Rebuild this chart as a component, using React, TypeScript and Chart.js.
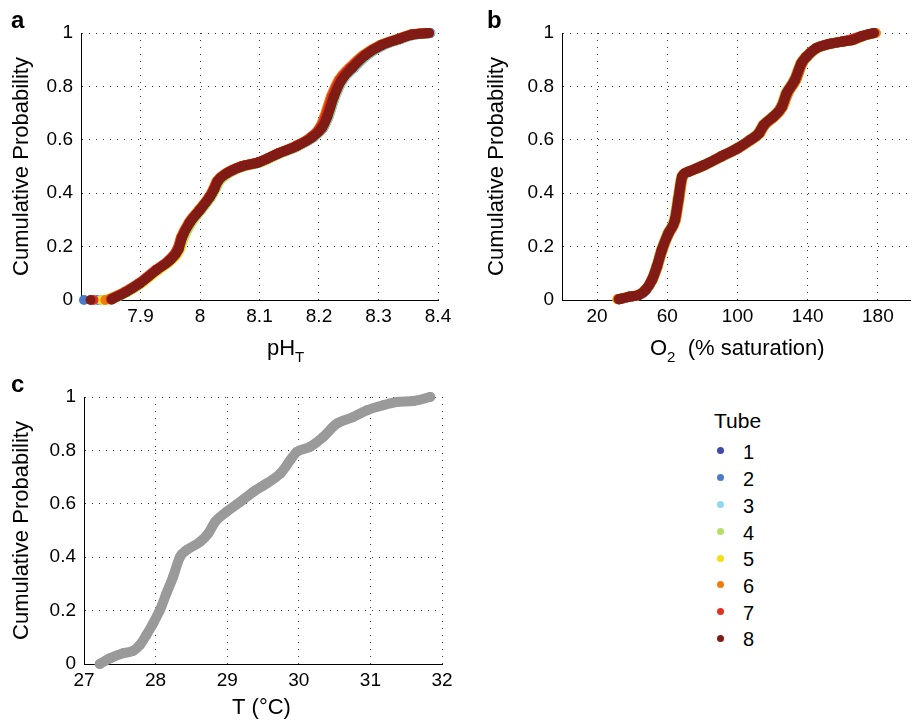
import React, { useEffect, useRef } from "react";
import { Chart, registerables } from "chart.js";

Chart.register(...registerables);

const FONT = "'Liberation Sans', Arial, Helvetica, sans-serif";

// ---------- shared ----------
const tubeNames = ["1", "2", "3", "4", "5", "6", "7", "8"];
const tubeColors = ["#3f4aa6", "#4b7bc8", "#90d9ea", "#b3e066", "#f4df14", "#ef7d0c", "#e1311f", "#801b15"];
const probTicks = [0, 0.2, 0.4, 0.6, 0.8, 1];

// ---------- panel a : pH_T ----------
const phTicks = [7.9, 8, 8.1, 8.2, 8.3, 8.4];
const phProb = [0.003, 0.03, 0.062, 0.112, 0.15, 0.19, 0.235, 0.29, 0.337, 0.387, 0.415, 0.445, 0.474, 0.5, 0.515, 0.549, 0.577, 0.61, 0.645, 0.687, 0.761, 0.824, 0.87, 0.917, 0.955, 0.977, 0.994, 1.0];
const phFirst = [7.829, 7.805, 7.832, 7.838, 7.836, 7.841, 7.821, 7.816];
const phTube1 = [7.852, 7.877, 7.9, 7.928, 7.951, 7.965, 7.971, 7.984, 8.001, 8.018, 8.025, 8.031, 8.046, 8.071, 8.099, 8.133, 8.164, 8.19, 8.206, 8.215, 8.226, 8.239, 8.257, 8.279, 8.307, 8.335, 8.358, 8.386];
const phTube2 = [7.851, 7.876, 7.899, 7.927, 7.95, 7.963, 7.969, 7.983, 8.001, 8.018, 8.025, 8.032, 8.047, 8.072, 8.1, 8.134, 8.165, 8.191, 8.207, 8.216, 8.227, 8.24, 8.259, 8.281, 8.309, 8.337, 8.36, 8.387];
const phTube3 = [7.853, 7.877, 7.9, 7.928, 7.951, 7.965, 7.972, 7.985, 8.001, 8.018, 8.025, 8.032, 8.047, 8.072, 8.1, 8.134, 8.165, 8.191, 8.206, 8.216, 8.227, 8.24, 8.258, 8.28, 8.308, 8.336, 8.359, 8.386];
const phTube4 = [7.853, 7.878, 7.901, 7.929, 7.952, 7.966, 7.973, 7.986, 8.002, 8.019, 8.026, 8.033, 8.048, 8.073, 8.101, 8.134, 8.165, 8.19, 8.206, 8.215, 8.226, 8.239, 8.257, 8.279, 8.307, 8.335, 8.358, 8.384];
const phTube5 = [7.846, 7.876, 7.901, 7.93, 7.952, 7.966, 7.971, 7.982, 7.998, 8.016, 8.023, 8.029, 8.044, 8.069, 8.098, 8.132, 8.162, 8.187, 8.202, 8.21, 8.221, 8.234, 8.252, 8.275, 8.304, 8.333, 8.356, 8.382];
const phTube6 = [7.848, 7.873, 7.897, 7.926, 7.949, 7.962, 7.968, 7.981, 7.998, 8.015, 8.022, 8.028, 8.043, 8.068, 8.097, 8.131, 8.161, 8.186, 8.201, 8.209, 8.22, 8.233, 8.251, 8.274, 8.303, 8.331, 8.354, 8.38];
const phTube7 = [7.85, 7.874, 7.897, 7.925, 7.948, 7.962, 7.969, 7.982, 7.999, 8.016, 8.023, 8.029, 8.044, 8.069, 8.097, 8.131, 8.161, 8.187, 8.202, 8.211, 8.222, 8.235, 8.253, 8.276, 8.304, 8.332, 8.355, 8.378];
const phTube8 = [7.852, 7.876, 7.899, 7.927, 7.95, 7.964, 7.97, 7.983, 8.0, 8.017, 8.024, 8.03, 8.045, 8.07, 8.098, 8.132, 8.163, 8.189, 8.205, 8.214, 8.225, 8.238, 8.256, 8.278, 8.306, 8.334, 8.357, 8.385];

// ---------- panel b : O2 (% saturation) ----------
const o2Ticks = [20, 60, 100, 140, 180];
const o2Prob = [0.003, 0.012, 0.019, 0.037, 0.075, 0.125, 0.187, 0.25, 0.3, 0.375, 0.462, 0.48, 0.506, 0.537, 0.568, 0.6, 0.624, 0.655, 0.687, 0.724, 0.774, 0.824, 0.887, 0.911, 0.943, 0.959, 0.968, 0.974, 0.989, 1.0];
const o2Tube1 = [32.8, 38.4, 44.0, 47.8, 51.4, 54.2, 56.9, 60.7, 64.4, 66.3, 68.6, 72.0, 81.4, 90.8, 100.3, 107.7, 112.4, 115.2, 120.8, 125.5, 128.3, 132.9, 136.7, 139.5, 145.1, 152.6, 160.2, 165.7, 171.3, 177.8];
const o2Tube2 = [32.9, 38.5, 44.1, 47.9, 51.5, 54.2, 56.8, 60.6, 64.3, 66.2, 68.6, 72.1, 81.6, 91.1, 100.6, 108.1, 112.7, 115.5, 121.0, 125.6, 128.3, 133.0, 136.8, 139.6, 145.3, 152.8, 160.3, 165.8, 171.4, 177.9];
const o2Tube3 = [32.7, 38.3, 43.9, 47.7, 51.2, 54.0, 56.7, 60.5, 64.2, 66.1, 68.4, 71.8, 81.2, 90.6, 100.2, 107.6, 112.3, 115.1, 120.7, 125.4, 128.2, 132.9, 136.6, 139.4, 145.0, 152.5, 160.1, 165.7, 171.3, 177.8];
const o2Tube4 = [32.8, 38.4, 44.0, 47.5, 50.9, 53.6, 56.3, 60.0, 63.7, 65.7, 67.9, 71.3, 80.8, 90.0, 99.4, 106.8, 111.4, 114.2, 119.8, 124.5, 127.3, 132.0, 135.8, 138.6, 144.3, 151.8, 159.5, 165.0, 170.8, 177.4];
const o2Tube5 = [31.6, 37.6, 43.4, 47.4, 51.4, 54.4, 57.2, 61.0, 64.7, 66.6, 68.8, 72.2, 81.6, 91.0, 100.3, 107.8, 112.6, 115.4, 121.0, 125.7, 128.6, 133.2, 136.9, 139.6, 145.2, 152.7, 160.3, 165.9, 171.5, 178.2];
const o2Tube6 = [31.8, 37.8, 43.6, 47.6, 51.6, 54.5, 57.3, 61.1, 64.9, 66.8, 69.0, 72.4, 81.8, 91.1, 100.4, 108.0, 112.8, 115.6, 121.3, 126.0, 128.9, 133.5, 137.1, 139.8, 145.4, 152.9, 160.5, 166.1, 171.8, 178.8];
const o2Tube7 = [32.4, 38.0, 43.5, 47.3, 51.0, 53.9, 56.7, 60.5, 64.2, 66.1, 68.3, 71.7, 81.0, 90.3, 99.7, 107.2, 111.9, 114.7, 120.3, 125.0, 127.8, 132.5, 136.2, 139.0, 144.6, 152.0, 159.6, 163.5, 171.0, 177.5];
const o2Tube8 = [32.6, 38.2, 43.8, 47.6, 51.3, 54.1, 56.9, 60.7, 64.4, 66.3, 68.5, 71.9, 81.3, 90.6, 100.0, 107.5, 112.2, 115.0, 120.6, 125.3, 128.1, 132.8, 136.5, 139.3, 144.9, 152.4, 160.0, 165.6, 171.2, 177.7];

// ---------- panel c : temperature ----------
const tempTicks = [27, 28, 29, 30, 31, 32];
const tempValues = [27.22, 27.36, 27.545, 27.685, 27.78, 27.87, 27.965, 28.06, 28.15, 28.245, 28.34, 28.43, 28.62, 28.735, 28.83, 28.99, 29.18, 29.365, 29.55, 29.74, 29.88, 29.97, 30.155, 30.34, 30.53, 30.76, 30.95, 31.18, 31.37, 31.6, 31.835];
const tempProb = [0.0, 0.021, 0.04, 0.049, 0.071, 0.108, 0.152, 0.202, 0.264, 0.327, 0.401, 0.426, 0.457, 0.489, 0.532, 0.57, 0.607, 0.645, 0.676, 0.713, 0.763, 0.794, 0.813, 0.85, 0.9, 0.925, 0.95, 0.969, 0.981, 0.985, 1.0];
const tempColor = "#9a9a9a";

const phTubes = [phTube1, phTube2, phTube3, phTube4, phTube5, phTube6, phTube7, phTube8];
const o2Tubes = [o2Tube1, o2Tube2, o2Tube3, o2Tube4, o2Tube5, o2Tube6, o2Tube7, o2Tube8];

function curve(xs: number[], ps: number[], first?: number) {
  const pts: any[] = [];
  if (first !== undefined) {
    pts.push({ x: first, y: 0 });
    pts.push({ x: first, y: null });
  }
  xs.forEach((x, i) => pts.push({ x, y: ps[i] }));
  return pts;
}

function seriesStyle(color: string, order: number) {
  return {
    type: "line",
    borderColor: color,
    backgroundColor: color,
    pointBackgroundColor: color,
    pointBorderWidth: 0,
    pointRadius: 5,
    pointHoverRadius: 5,
    borderWidth: 10,
    borderCapStyle: "round",
    borderJoinStyle: "round",
    cubicInterpolationMode: "monotone",
    spanGaps: false,
    clip: false,
    order,
  };
}

type Part = { text: string; size: number; dy?: number };
type Spec = {
  left: number; top: number; width: number; height: number;
  area: { left: number; top: number; right: number; bottom: number };
  xMin: number; xMax: number; xTicks: number[];
  datasets: any[];
  letter: string; letterX: number; letterY: number;
  xTitle: Part[]; xTitleX: number; xTitleY: number;
  yTitlePad: number;
};

function buildConfig(s: Spec): any {
  const textPlugin = {
    id: "panelText",
    afterDraw(chart: any) {
      const ctx = chart.ctx;
      ctx.save();
      ctx.fillStyle = "#000";
      ctx.textAlign = "left";
      ctx.textBaseline = "alphabetic";
      ctx.font = `bold 24px ${FONT}`;
      ctx.fillText(s.letter, s.letterX, s.letterY);
      let x = s.xTitleX;
      for (const p of s.xTitle) {
        ctx.font = `${p.size}px ${FONT}`;
        ctx.fillText(p.text, x, s.xTitleY + (p.dy || 0));
        x += ctx.measureText(p.text).width;
      }
      ctx.restore();
    },
  };
  const gridCommon = { color: "#3a3a3a", lineWidth: 1, drawTicks: false };
  const borderCommon = { display: true, color: "#000", width: 1, dash: [1, 6] };
  return {
    type: "line",
    data: { datasets: s.datasets },
    plugins: [textPlugin],
    options: {
      responsive: false,
      maintainAspectRatio: false,
      animation: false,
      events: [],
      layout: { padding: { left: 0, top: s.area.top, right: s.width - s.area.right, bottom: 0 } },
      plugins: { legend: { display: false }, tooltip: { enabled: false } },
      scales: {
        x: {
          type: "linear",
          min: s.xMin,
          max: s.xMax,
          afterBuildTicks: (sc: any) => { sc.ticks = s.xTicks.map((v) => ({ value: v })); },
          afterFit: (sc: any) => { sc.height = s.height - s.area.bottom; },
          ticks: { color: "#000", font: { family: FONT, size: 19 }, padding: 5, maxRotation: 0, callback: (v: any) => String(v) },
          grid: gridCommon,
          border: borderCommon,
        },
        y: {
          type: "linear",
          min: 0,
          max: 1,
          afterBuildTicks: (sc: any) => { sc.ticks = probTicks.map((v) => ({ value: v })); },
          afterFit: (sc: any) => { sc.width = s.area.left; },
          ticks: { color: "#000", font: { family: FONT, size: 19 }, padding: 8, callback: (v: any) => String(v) },
          grid: gridCommon,
          border: borderCommon,
          title: { display: true, text: "Cumulative Probability", color: "#000", font: { family: FONT, size: 22 }, padding: { top: s.yTitlePad, bottom: 0 } },
        },
      },
    },
  };
}

const specA: Spec = {
  left: 0, top: 0, width: 460, height: 362,
  area: { left: 81, top: 33, right: 438, bottom: 300 },
  xMin: 7.8, xMax: 8.4, xTicks: phTicks,
  datasets: tubeNames.map((n, i) => ({ label: "Tube " + n, data: curve(phTubes[i], phProb, phFirst[i]), ...seriesStyle(tubeColors[i], 8 - i) })),
  letter: "a", letterX: 11, letterY: 28,
  xTitle: [{ text: "pH", size: 22 }, { text: "T", size: 15, dy: 7 }], xTitleX: 267, xTitleY: 355,
  yTitlePad: 9,
};

const specB: Spec = {
  left: 460, top: 0, width: 455, height: 362,
  area: { left: 102, top: 33, right: 455, bottom: 300 },
  xMin: 0, xMax: 198.3, xTicks: o2Ticks,
  datasets: tubeNames.map((n, i) => ({ label: "Tube " + n, data: curve(o2Tubes[i], o2Prob), ...seriesStyle(tubeColors[i], 8 - i) })),
  letter: "b", letterX: 27, letterY: 28,
  xTitle: [{ text: "O", size: 22 }, { text: "2", size: 15, dy: 7 }, { text: "  (% saturation)", size: 22 }], xTitleX: 190, xTitleY: 355,
  yTitlePad: 24,
};

const specC: Spec = {
  left: 0, top: 362, width: 460, height: 360,
  area: { left: 84, top: 35, right: 442, bottom: 302 },
  xMin: 27, xMax: 32, xTicks: tempTicks,
  datasets: [{ label: "Temperature", data: curve(tempValues, tempProb), ...seriesStyle(tempColor, 1) }],
  letter: "c", letterX: 11, letterY: 30,
  xTitle: [{ text: "T (°C)", size: 22 }], xTitleX: 232, xTitleY: 352,
  yTitlePad: 9,
};

function Panel({ spec }: { spec: Spec }) {
  const ref = useRef<HTMLCanvasElement>(null);
  useEffect(() => {
    const chart = new Chart(ref.current as HTMLCanvasElement, buildConfig(spec));
    return () => chart.destroy();
  }, [spec]);
  return (
    <canvas
      ref={ref}
      width={spec.width}
      height={spec.height}
      style={{ position: "absolute", left: spec.left, top: spec.top, width: spec.width, height: spec.height }}
    />
  );
}

function Legend() {
  return (
    <div style={{ position: "absolute", left: 0, top: 0, fontFamily: FONT, color: "#000" }}>
      <div style={{ position: "absolute", left: 714, top: 408, fontSize: 21, lineHeight: "26px", whiteSpace: "nowrap" }}>Tube</div>
      {tubeNames.map((n, i) => (
        <React.Fragment key={n}>
          <div
            style={{
              position: "absolute", left: 716.5, top: 447.2 + 26.85 * i, width: 7, height: 7,
              borderRadius: "50%", background: tubeColors[i],
            }}
          />
          <div style={{ position: "absolute", left: 743, top: 439.4 + 26.7 * i, fontSize: 20, lineHeight: "26px" }}>{n}</div>
        </React.Fragment>
      ))}
    </div>
  );
}

export default function App() {
  return (
    <div style={{ position: "absolute", left: 0, top: 0, width: 915, height: 722, overflow: "hidden", background: "#fff" }}>
      <Panel spec={specA} />
      <Panel spec={specB} />
      <Panel spec={specC} />
      <Legend />
    </div>
  );
}
